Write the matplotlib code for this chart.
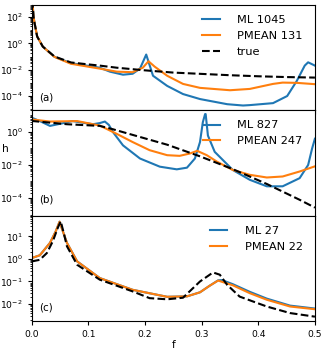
import numpy as np
import matplotlib
matplotlib.use("Agg")
import matplotlib.pyplot as plt
from matplotlib.ticker import LogLocator, NullFormatter

# values, stored as log10(h)

# (a)
a_f_true = [0.001, 0.0018, 0.003, 0.0048, 0.0094, 0.0194, 0.040, 0.069, 0.10, 0.12,
            0.15, 0.20, 0.25, 0.30, 0.35, 0.40, 0.45, 0.50]
a_true = [3.3, 2.69, 2.0, 1.54, 0.52, -0.25, -1.0, -1.45, -1.6, -1.69,
          -1.85, -2.05, -2.22, -2.32, -2.42, -2.5, -2.56, -2.6]

a_f_ml = [0.001, 0.0018, 0.003, 0.0048, 0.0094, 0.0194, 0.040, 0.069, 0.12, 0.138,
          0.161, 0.178, 0.191, 0.202, 0.214, 0.239, 0.267, 0.297, 0.345, 0.373,
          0.385, 0.426, 0.451, 0.468, 0.482, 0.488, 0.50]
a_ml = [3.3, 2.69, 2.0, 1.54, 0.52, -0.25, -1.02, -1.5, -1.85, -2.15,
        -2.38, -2.31, -1.92, -0.85, -2.46, -3.23, -3.85, -4.23, -4.62, -4.72,
        -4.69, -4.54, -4.0, -2.85, -1.69, -1.44, -1.69]

a_f_pm = [0.001, 0.0018, 0.003, 0.0048, 0.0094, 0.0194, 0.040, 0.069, 0.12, 0.150,
          0.178, 0.196, 0.206, 0.217, 0.239, 0.267, 0.297, 0.350, 0.385, 0.426,
          0.443, 0.468, 0.50]
a_pm = [3.3, 2.69, 2.0, 1.54, 0.52, -0.25, -1.03, -1.55, -1.92, -2.15,
        -2.19, -1.85, -1.36, -1.77, -2.46, -3.08, -3.38, -3.56, -3.46, -3.08,
        -2.98, -3.0, -3.1]

# (b)
b_f_true = [0.0, 0.002, 0.062, 0.12, 0.143, 0.178, 0.239, 0.297, 0.355, 0.415, 0.473, 0.50]
b_true = [0.69, 0.63, 0.44, 0.34, 0.14, -0.20, -0.79, -1.49, -2.26, -3.15, -4.1, -4.57]

b_f_ml = [0.0, 0.014, 0.032, 0.049, 0.072, 0.094, 0.108, 0.12, 0.129, 0.136,
          0.143, 0.161, 0.191, 0.226, 0.256, 0.274, 0.288, 0.297, 0.302, 0.306,
          0.307, 0.311, 0.323, 0.355, 0.385, 0.415, 0.443, 0.473, 0.488, 0.495, 0.50]
b_ml = [0.83, 0.63, 0.34, 0.46, 0.63, 0.51, 0.44, 0.51, 0.6, 0.4,
        -0.02, -0.83, -1.62, -2.11, -2.27, -2.17, -1.62, -0.63, 0.56, 1.05,
        1.05, -0.24, -1.22, -2.31, -2.9, -3.29, -3.29, -2.8, -2.01, -1.02, -0.43]

b_f_pm = [0.0, 0.032, 0.08, 0.12, 0.15, 0.178, 0.208, 0.239, 0.261, 0.279,
          0.292, 0.309, 0.327, 0.355, 0.385, 0.415, 0.443, 0.473, 0.50]
b_pm = [0.73, 0.6, 0.63, 0.36, -0.14, -0.63, -1.12, -1.42, -1.46, -1.32,
        -1.16, -1.42, -1.81, -2.31, -2.6, -2.76, -2.7, -2.4, -2.09]

# (c)
c_f_true = [0.0, 0.014, 0.0265, 0.037, 0.046, 0.051, 0.057, 0.062, 0.08, 0.12,
            0.178, 0.208, 0.239, 0.267, 0.297, 0.320, 0.332, 0.345, 0.367, 0.415,
            0.456, 0.50]
c_true = [-0.11, -0.04, 0.26, 0.78, 1.39, 1.67, 1.08, 0.56, -0.26, -0.92,
          -1.44, -1.74, -1.79, -1.72, -1.0, -0.6, -0.7, -1.15, -1.67, -2.11,
          -2.4, -2.56]

c_f_ml = [0.0, 0.014, 0.032, 0.042, 0.049, 0.055, 0.062, 0.08, 0.12, 0.178,
          0.239, 0.274, 0.297, 0.314, 0.329, 0.336, 0.355, 0.385, 0.415, 0.456, 0.50]
c_ml = [0.04, 0.16, 0.71, 1.21, 1.65, 1.21, 0.71, -0.11, -0.85, -1.37,
        -1.68, -1.66, -1.48, -1.19, -0.95, -0.94, -1.12, -1.46, -1.76, -2.07, -2.2]

c_f_pm = [0.0, 0.014, 0.032, 0.042, 0.049, 0.055, 0.062, 0.08, 0.12, 0.178,
          0.239, 0.274, 0.297, 0.314, 0.329, 0.355, 0.385, 0.415, 0.456, 0.50]
c_pm = [0.04, 0.16, 0.71, 1.21, 1.65, 1.21, 0.71, -0.11, -0.85, -1.37,
        -1.68, -1.66, -1.48, -1.19, -0.96, -1.17, -1.52, -1.81, -2.11, -2.23]

panels = [
    ("(a)", (a_f_ml, a_ml, "ML 1045"), (a_f_pm, a_pm, "PMEAN 131"), (a_f_true, a_true), (-5.08, 2.92), 100, 0.125),
    ("(b)", (b_f_ml, b_ml, "ML 827"), (b_f_pm, b_pm, "PMEAN 247"), (b_f_true, b_true), (-5.05, 1.28), 100, 0.15),
    ("(c)", (c_f_ml, c_ml, "ML 27"), (c_f_pm, c_pm, "PMEAN 22"), (c_f_true, c_true), (-2.75, 1.92), 10, 0.125),
]

plt.rcParams["xtick.labelsize"] = 6.6
plt.rcParams["ytick.labelsize"] = 6.6
plt.rcParams["xtick.major.size"] = 3
plt.rcParams["ytick.major.size"] = 3
plt.rcParams["ytick.minor.size"] = 1.8

fig, axes = plt.subplots(3, 1, figsize=(3.25, 3.5), dpi=100, sharex=True)
fig.subplots_adjust(left=0.098, right=0.969, top=0.986, bottom=0.083, hspace=0)

for ax, (tag, ml, pm, tr, ylim, base, ty) in zip(axes, panels):
    ax.plot(ml[0], 10 ** np.array(ml[1]), color="C0", label=ml[2])
    ax.plot(pm[0], 10 ** np.array(pm[1]), color="C1", label=pm[2])
    ax.plot(tr[0], 10 ** np.array(tr[1]), "k--", label="true")
    ax.set_yscale("log")
    ax.set_ylim(10 ** ylim[0], 10 ** ylim[1])
    ax.yaxis.set_major_locator(LogLocator(base=base, numticks=20))
    ax.yaxis.set_minor_locator(LogLocator(base=10, subs=np.arange(1, 10), numticks=40))
    ax.yaxis.set_minor_formatter(NullFormatter())
    ax.text(0.025, ty, tag, transform=ax.transAxes, va="center", fontsize=7.4)
    h, l = ax.get_legend_handles_labels()
    n = 3 if tag == "(a)" else 2
    ax.legend(h[:n], l[:n], loc="upper right", bbox_to_anchor=(0.993, 1.0),
              frameon=False, fontsize=8.2, handlelength=1.5, handletextpad=1.55)

axes[-1].set_xlim(0, 0.5)
axes[-1].set_xlabel("f", fontsize=7.6, labelpad=1)
axes[1].set_ylabel("h", fontsize=7.6, rotation=0, ha="center", va="center")
axes[1].yaxis.set_label_coords(-0.095, 0.636)

fig.savefig("out.png")
